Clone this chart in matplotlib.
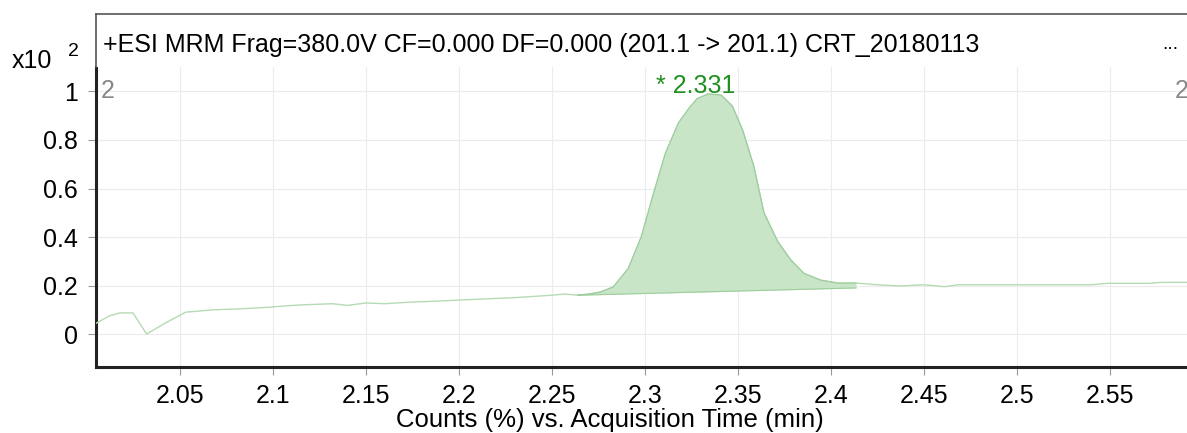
import numpy as np
import matplotlib
matplotlib.use("Agg")
import matplotlib.pyplot as plt

plt.rcParams['font.family'] = ['Liberation Sans', 'DejaVu Sans']

title = "+ESI MRM Frag=380.0V CF=0.000 DF=0.000 (201.1 -> 201.1) CRT_20180113"
xlabel = "Counts (%) vs. Acquisition Time (min)"
peak_label = "* 2.331"

times = [2.005, 2.012, 2.0177, 2.0247, 2.032, 2.042, 2.053, 2.068, 2.080, 2.097,
         2.105, 2.115, 2.132, 2.14, 2.15, 2.16, 2.175, 2.19, 2.2, 2.215,
         2.23, 2.24, 2.25, 2.257, 2.2638, 2.27, 2.276, 2.283, 2.291, 2.298,
         2.305, 2.311, 2.318, 2.3236, 2.328, 2.334, 2.341, 2.347, 2.3526, 2.3586,
         2.364, 2.3715, 2.3785, 2.3855, 2.3946, 2.4038, 2.4135, 2.425, 2.4377, 2.4485,
         2.455, 2.461, 2.4684, 2.48, 2.4916, 2.51, 2.53, 2.54, 2.549, 2.56,
         2.572, 2.5777, 2.592]
counts = [0.045, 0.075, 0.087, 0.087, 0.0, 0.045, 0.09, 0.1, 0.103, 0.11,
          0.115, 0.12, 0.125, 0.118, 0.128, 0.125, 0.132, 0.136, 0.14, 0.145,
          0.15, 0.155, 0.16, 0.165, 0.16, 0.165, 0.173, 0.194, 0.27, 0.40,
          0.59, 0.745, 0.87, 0.93, 0.97, 0.99, 0.985, 0.94, 0.84, 0.69,
          0.50, 0.38, 0.305, 0.25, 0.222, 0.21, 0.21, 0.203, 0.198, 0.203,
          0.2, 0.195, 0.203, 0.203, 0.203, 0.203, 0.203, 0.203, 0.209, 0.209,
          0.209, 0.213, 0.213]
peak_start, peak_end = 2.2638, 2.4135
base_start, base_end = 0.16, 0.19
peak_rt, peak_top = 2.3275, 0.975

xticks = [2.05, 2.1, 2.15, 2.2, 2.25, 2.3, 2.35, 2.4, 2.45, 2.5, 2.55]
xticklabels = ["2.05", "2.1", "2.15", "2.2", "2.25", "2.3", "2.35", "2.4", "2.45", "2.5", "2.55"]
yticks = [0, 0.2, 0.4, 0.6, 0.8, 1.0]
yticklabels = ["0", "0.2", "0.4", "0.6", "0.8", "1"]

W, H = 1187, 433
FS = 18
fig = plt.figure(figsize=(W / 100, H / 100), dpi=100)
fig.patch.set_facecolor('white')

L = 96 / W
ax = fig.add_axes([L, (H - 367) / H, 1 - L, (367 - 67) / H])
hdr = fig.add_axes([L, (H - 67) / H, 1 - L, (67 - 14) / H])

t = np.array(times)
c = np.array(counts)

line_col = '#b5dab5'
fill_col = '#c8e5c8'
edge_col = '#9ccd9c'

ax.plot(t, c, color=line_col, lw=1.0, zorder=3)
mask = (t >= peak_start - 1e-9) & (t <= peak_end + 1e-9)
tp = t[mask]
base = np.interp(tp, [peak_start, peak_end], [base_start, base_end])
ax.fill_between(tp, base, c[mask], color=fill_col, lw=0, zorder=2)
ax.plot(tp, c[mask], color=edge_col, lw=0.8, zorder=3)
ax.plot([peak_start, peak_end], [base_start, base_end], color=edge_col, lw=0.8, zorder=3)

ax.text(peak_rt, peak_top, peak_label, color='#1f8f1f', fontsize=FS,
        ha='center', va='bottom', zorder=4)

ax.set_xlim(2.0048, 2.5915)
ax.set_ylim(-0.136, 1.101)
ax.set_xticks(xticks)
ax.set_xticklabels(xticklabels)
ax.set_yticks(yticks)
ax.set_yticklabels(yticklabels)
ax.grid(True, color='#ececec', lw=0.8, zorder=0)
ax.set_axisbelow(True)
ax.tick_params(axis='both', labelsize=FS, colors='#999999', labelcolor='black',
               length=6, width=0.8, direction='out', pad=7)
ax.tick_params(axis='x', pad=6)
for s in ['top', 'right']:
    ax.spines[s].set_visible(False)
for s in ['left', 'bottom']:
    ax.spines[s].set_color('#222222')
    ax.spines[s].set_linewidth(2.2)

fig.text(610 / W, 1 - 427 / H, xlabel, fontsize=18.5,
         ha='center', va='baseline')

ax.text(0.004, 0.92, "2", transform=ax.transAxes, color='#888888', fontsize=FS,
        ha='left', va='center')
ax.text(0.989, 0.92, "2", transform=ax.transAxes, color='#888888', fontsize=FS,
        ha='left', va='center', clip_on=False)

hdr.set_xlim(0, 1)
hdr.set_ylim(0, 1)
hdr.set_xticks([])
hdr.set_yticks([])
for s in ['bottom', 'right']:
    hdr.spines[s].set_visible(False)
for s in ['top', 'left']:
    hdr.spines[s].set_color('#555555')
    hdr.spines[s].set_linewidth(1.2)
hdr.text(0.006, 0.42, title, fontsize=FS, ha='left', va='center')
hdr.text(0.977, 0.42, "...", fontsize=14, ha='left', va='center')

fig.text(12 / W, 1 - 61 / H, "x10", fontsize=FS, ha='left', va='center')
fig.text(68 / W, 1 - 52 / H, "2", fontsize=14, ha='left', va='center')

fig.savefig("out.png", dpi=100)
